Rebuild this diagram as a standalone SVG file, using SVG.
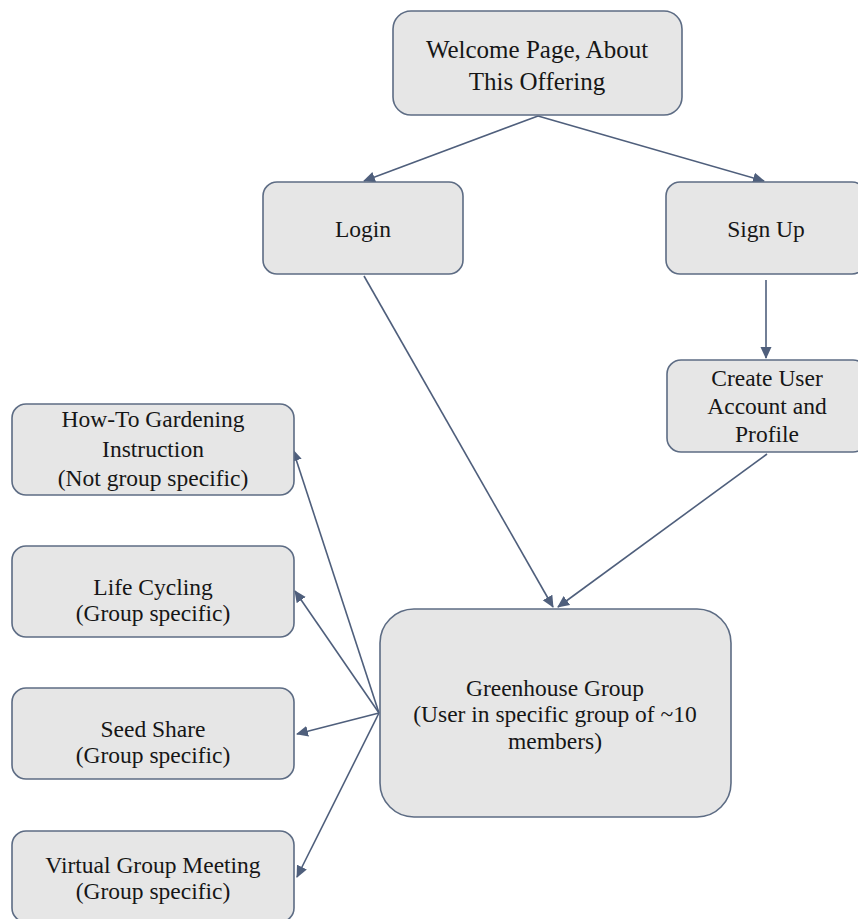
<svg xmlns="http://www.w3.org/2000/svg" width="858" height="919" viewBox="0 0 858 919">
<style>
.box{fill:#e6e6e6;stroke:#5d6c84;stroke-width:1.6}
.t{font-family:"Liberation Serif","Times New Roman",serif;font-size:23.5px;fill:#161616;text-anchor:middle}
.big{font-size:25px}
.c{fill:none;stroke:#4f5f7c;stroke-width:1.6}
</style>
<defs>
<marker id="ah" markerWidth="12" markerHeight="12" refX="11" refY="6" orient="auto" markerUnits="userSpaceOnUse">
<path d="M0,0.5 L12,6 L0,11.5 Z" fill="#4f5f7c"/>
</marker>
</defs>
<rect width="858" height="919" fill="#ffffff"/>
<g id="connectors">
<line class="c" x1="538" y1="116" x2="364" y2="181" marker-end="url(#ah)"/>
<line class="c" x1="538" y1="116" x2="764" y2="181" marker-end="url(#ah)"/>
<line class="c" x1="766" y1="280" x2="766" y2="358" marker-end="url(#ah)"/>
<line class="c" x1="364" y1="276" x2="553" y2="607" marker-end="url(#ah)"/>
<line class="c" x1="767" y1="454" x2="558" y2="607" marker-end="url(#ah)"/>
<line class="c" x1="379" y1="713" x2="293" y2="450" marker-end="url(#ah)"/>
<line class="c" x1="379" y1="713" x2="295" y2="591" marker-end="url(#ah)"/>
<line class="c" x1="379" y1="713" x2="297" y2="734" marker-end="url(#ah)"/>
<line class="c" x1="379" y1="713" x2="297" y2="877" marker-end="url(#ah)"/>
</g>
<g id="welcome">
<rect class="box" x="393" y="11" width="289" height="104" rx="18"/>
<text class="t big" x="537" y="58">Welcome Page, About</text>
<text class="t big" x="537" y="90">This Offering</text>
</g>
<g id="login">
<rect class="box" x="263" y="182" width="200" height="92" rx="14"/>
<text class="t" x="363" y="237">Login</text>
</g>
<g id="signup">
<rect class="box" x="666" y="182" width="200" height="92" rx="14"/>
<text class="t" x="766" y="237">Sign Up</text>
</g>
<g id="create">
<rect class="box" x="667" y="360" width="200" height="92" rx="14"/>
<text class="t" x="767" y="386">Create User</text>
<text class="t" x="767" y="414">Account and</text>
<text class="t" x="767" y="442">Profile</text>
</g>
<g id="howto">
<rect class="box" x="12" y="404" width="282" height="91" rx="14"/>
<text class="t" x="153" y="427">How-To Gardening</text>
<text class="t" x="153" y="457">Instruction</text>
<text class="t" x="153" y="486">(Not group specific)</text>
</g>
<g id="lifecycling">
<rect class="box" x="12" y="546" width="282" height="91" rx="14"/>
<text class="t" x="153" y="595">Life Cycling</text>
<text class="t" x="153" y="621">(Group specific)</text>
</g>
<g id="seedshare">
<rect class="box" x="12" y="688" width="282" height="91" rx="14"/>
<text class="t" x="153" y="737">Seed Share</text>
<text class="t" x="153" y="763">(Group specific)</text>
</g>
<g id="virtual">
<rect class="box" x="12" y="831" width="282" height="91" rx="14"/>
<text class="t" x="153" y="873">Virtual Group Meeting</text>
<text class="t" x="153" y="899">(Group specific)</text>
</g>
<g id="greenhouse">
<rect class="box" x="380" y="609" width="351" height="208" rx="34"/>
<text class="t" x="555" y="696">Greenhouse Group</text>
<text class="t" x="555" y="722">(User in specific group of ~10</text>
<text class="t" x="555" y="749">members)</text>
</g>
</svg>
